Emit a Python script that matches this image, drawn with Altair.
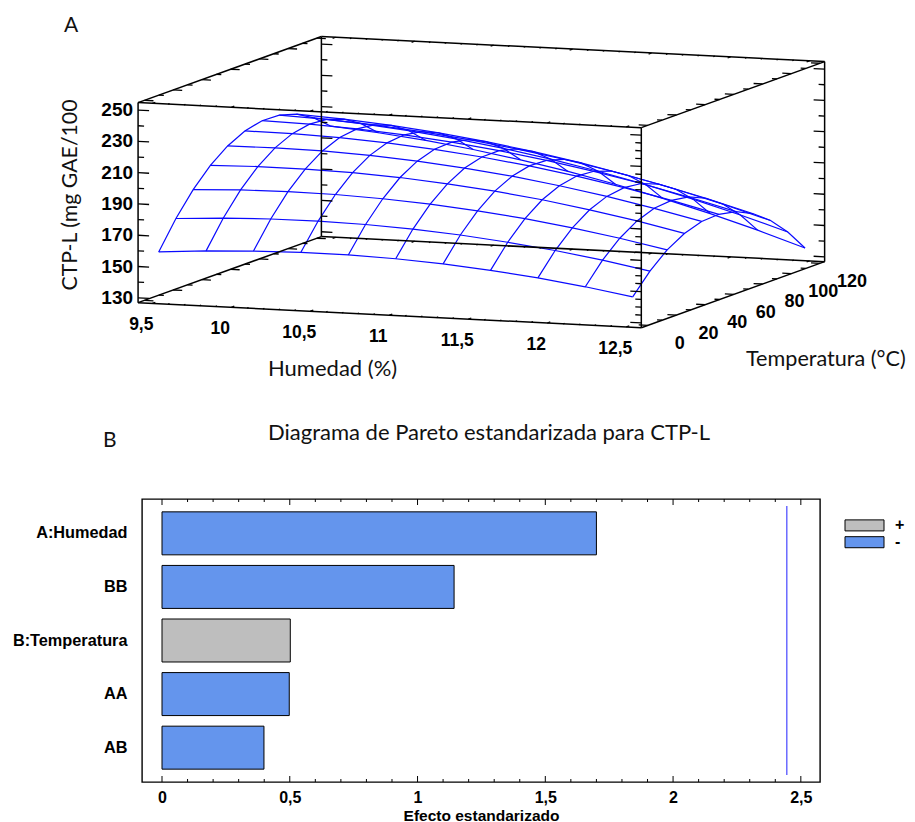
import altair as alt
import pandas as pd

# ---------- 3D surface data ----------
hum_grid = [9.5, 9.8, 10.1, 10.4, 10.7, 11.0, 11.3, 11.6, 11.9, 12.2, 12.5]
temp_grid = [0, 12, 24, 36, 48, 60, 72, 84, 96, 108, 120]
# CTP-L: one row per humidity, one column per temperature
ctp = [
    [158.3, 175.7, 190.2, 201.7, 210.2, 215.8, 218.4, 218.0, 214.7, 208.3, 199.0],
    [160.5, 177.5, 191.5, 202.5, 210.5, 215.6, 217.7, 216.8, 213.0, 206.1, 196.3],
    [161.9, 178.4, 191.9, 202.4, 210.0, 214.6, 216.2, 214.8, 210.5, 203.2, 192.9],
    [162.6, 178.6, 191.6, 201.6, 208.7, 212.7, 213.9, 212.0, 207.2, 199.4, 188.6],
    [162.4, 177.9, 190.4, 200.0, 206.5, 210.1, 210.7, 208.4, 203.1, 194.8, 183.5],
    [161.5, 176.5, 188.5, 197.5, 203.6, 206.7, 206.8, 204.0, 198.2, 189.4, 177.6],
    [159.7, 174.2, 185.7, 194.3, 199.9, 202.5, 202.1, 198.8, 192.5, 183.2, 170.9],
    [157.1, 171.1, 182.2, 190.3, 195.3, 197.5, 196.6, 192.8, 186.0, 176.2, 163.4],
    [153.8, 167.3, 177.8, 185.4, 190.0, 191.6, 190.3, 186.0, 178.7, 168.4, 155.2],
    [149.6, 162.7, 172.7, 179.8, 183.9, 185.0, 183.2, 178.4, 170.6, 159.8, 146.1],
    [144.7, 157.2, 166.8, 173.3, 177.0, 177.6, 175.3, 170.0, 161.7, 150.4, 136.2],
]
hum_ticks = [9.5, 10, 10.5, 11, 11.5, 12, 12.5]
hum_labels = ["9,5", "10", "10,5", "11", "11,5", "12", "12,5"]
temp_ticks = [0, 20, 40, 60, 80, 100, 120]
ctp_ticks = [130, 150, 170, 190, 210, 230, 250]

# ---------- Pareto data ----------
effects = ["A:Humedad", "BB", "B:Temperatura", "AA", "AB"]
effect_values = [1.70, 1.143, 0.502, 0.498, 0.399]
effect_signs = ["-", "-", "+", "-", "-"]
critical_value = [2.445]
pareto_ticks = [0, 0.5, 1, 1.5, 2, 2.5]

H0, H1, T0, T1, Z0, Z1 = 9.41, 12.595, -4.46, 123.2, 126.9, 254.8


def project(h, t, z):
    sx = 158.7 + 158.0 * (h - 9.5) + 1.436 * t
    sy = 300.5 + 7.867 * (h - 9.5) - 0.5175 * t - 1.564 * (z - 127.25)
    return sx, sy


def segment(a, b):
    p, q = project(*a), project(*b)
    return {"x1": p[0], "y1": p[1], "x2": q[0], "y2": q[1]}


wire = []
for i, h in enumerate(hum_grid):
    for j, t in enumerate(temp_grid):
        sx, sy = project(h, t, ctp[i][j])
        wire.append({"sx": sx, "sy": sy, "line": f"h{i}", "k": j})
        wire.append({"sx": sx, "sy": sy, "line": f"t{j}", "k": i})
wire = pd.DataFrame(wire)

corners = [
    ((H0, T0, Z0), (H1, T0, Z0)), ((H0, T0, Z1), (H1, T0, Z1)),
    ((H0, T1, Z0), (H1, T1, Z0)), ((H0, T1, Z1), (H1, T1, Z1)),
    ((H0, T0, Z0), (H0, T1, Z0)), ((H0, T0, Z1), (H0, T1, Z1)),
    ((H1, T0, Z0), (H1, T1, Z0)), ((H1, T0, Z1), (H1, T1, Z1)),
    ((H0, T0, Z0), (H0, T0, Z1)), ((H0, T1, Z0), (H0, T1, Z1)),
    ((H1, T0, Z0), (H1, T0, Z1)), ((H1, T1, Z0), (H1, T1, Z1)),
]
box = pd.DataFrame([segment(a, b) for a, b in corners])

ticks = []
PX_H = 1 / 158.0
PX_T = 1 / 1.436
for corner_h, corner_t, sign, step in [(H0, T0, 1, 10), (H0, T1, 1, 10), (H1, T0, -1, 5), (H1, T1, -1, 10)]:
    for z in range(130, 251, step):
        length = 11 if z % 20 == 10 else 6
        ticks.append(segment((corner_h, corner_t, z), (corner_h + sign * length * PX_H, corner_t, z)))
for corner_h, corner_z, sign in [(H0, Z0, 1), (H0, Z1, 1), (H1, Z0, -1), (H1, Z1, -1)]:
    for t in range(0, 121, 10):
        length = 9 if t % 20 == 0 else 5
        ticks.append(segment((corner_h, t, corner_z), (corner_h + sign * length * PX_H, t, corner_z)))
for corner_t, corner_z, sign in [(T0, Z0, 1), (T0, Z1, 1), (T1, Z0, -1), (T1, Z1, -1)]:
    for n in range(95, 126):
        h = n / 10
        length = 3 if n % 5 == 0 else 1.5
        ticks.append(segment((h, corner_t, corner_z), (h, corner_t + sign * length * PX_T, corner_z)))
ticks = pd.DataFrame(ticks)


def points(rows):
    out = []
    for text, pos in rows:
        sx, sy = project(*pos)
        out.append({"sx": sx, "sy": sy, "text": text})
    return pd.DataFrame(out)


z_lab = points([(str(z), (H0, T0, z)) for z in ctp_ticks])
h_lab = points([(s, (h, T0, Z0)) for s, h in zip(hum_labels, hum_ticks)])
t_lab = points([(str(t), (H1, t, Z0)) for t in temp_ticks])

notes = pd.DataFrame([
    {"sx": 64, "sy": 26, "text": "A"},
    {"sx": 103, "sy": 441, "text": "B"},
    {"sx": 268, "sy": 433, "text": "Diagrama de Pareto estandarizada para CTP-L"},
    {"sx": 268, "sy": 369, "text": "Humedad (%)"},
    {"sx": 746, "sy": 360, "text": "Temperatura (°C)"},
])
ylab = pd.DataFrame([{"sx": 71, "sy": 195, "text": "CTP-L (mg GAE/100"}])

PANEL_W = 678
FRAME_L, FRAME_R = 142, 820
X = alt.X("sx:Q", axis=None, scale=alt.Scale(domain=[FRAME_L, FRAME_R], zero=False, nice=False))
Y = alt.Y("sy:Q", axis=None, scale=alt.Scale(domain=[450, 8], zero=False, nice=False))
X1 = alt.X("x1:Q", axis=None, scale=alt.Scale(domain=[FRAME_L, FRAME_R], zero=False, nice=False))
Y1 = alt.Y("y1:Q", axis=None, scale=alt.Scale(domain=[450, 8], zero=False, nice=False))

wire_l = alt.Chart(wire).mark_line(color="#0a0aff", strokeWidth=1.2, clip=False).encode(
    x=X, y=Y, detail="line:N", order="k:Q")
box_l = alt.Chart(box).mark_rule(color="black", strokeWidth=1.5).encode(x=X1, y=Y1, x2="x2:Q", y2="y2:Q")
tick_l = alt.Chart(ticks).mark_rule(color="black", strokeWidth=1.3).encode(x=X1, y=Y1, x2="x2:Q", y2="y2:Q")

BOLD = dict(font="Liberation Sans", fontWeight="bold", color="black", baseline="middle")
z_t = alt.Chart(z_lab).mark_text(align="right", dx=-5, fontSize=19, **BOLD).encode(x=X, y=Y, text="text:N")
h_t = alt.Chart(h_lab).mark_text(align="center", dx=-11, dy=22, fontSize=17.5, **BOLD).encode(x=X, y=Y, text="text:N")
t_t = alt.Chart(t_lab).mark_text(align="center", dx=32, dy=18.5, fontSize=18, **BOLD).encode(x=X, y=Y, text="text:N")

CAL = dict(font="Lato", color="#111111", baseline="middle")
note_a = alt.Chart(notes[notes.text.isin(["A", "B"])]).mark_text(align="left", fontSize=21, **CAL).encode(x=X, y=Y, text="text:N")
note_c = alt.Chart(notes[notes.text.str.startswith(("Diagrama", "Humedad"))]).mark_text(align="left", fontSize=22, **CAL).encode(x=X, y=Y, text="text:N")
note_t = alt.Chart(notes[notes.text.str.startswith("Temp")]).mark_text(align="left", fontSize=21.6, **CAL).encode(x=X, y=Y, text="text:N")
y_t = alt.Chart(ylab).mark_text(align="center", angle=270, fontSize=21.3, font="Lato", color="#111111", baseline="middle").encode(x=X, y=Y, text="text:N")

top = alt.layer(wire_l, box_l, tick_l, z_t, h_t, t_t, note_a, note_c, note_t, y_t).properties(width=PANEL_W, height=442)

# ---------- Pareto ----------
bars = pd.DataFrame({"effect": effects, "value": effect_values, "sign": effect_signs})
XB = alt.Scale(domain=[-0.0783, 2.575], zero=False, nice=False)
x_axis = alt.Axis(values=pareto_ticks, labelExpr="replace(format(datum.value,'.1~f'),'.',',')",
                  ticks=False, domain=False, grid=False, labelPadding=7, labelFontSize=16,
                  labelFont="Liberation Sans", labelFontWeight="bold", labelColor="black",
                  titleFont="Liberation Sans", titleFontWeight="bold", titleFontSize=15.5,
                  titleColor="black", titlePadding=3)
bar_l = alt.Chart(bars).mark_bar(stroke="black", strokeWidth=1).encode(
    x=alt.X("value:Q", scale=XB, title="Efecto estandarizado", axis=x_axis),
    y=alt.Y("effect:N", sort=effects, title=None,
            scale=alt.Scale(paddingInner=0.198, paddingOuter=0.24),
            axis=alt.Axis(ticks=False, domain=False, grid=False, labelPadding=15, labelFontSize=16.3,
                          labelFont="Liberation Sans", labelFontWeight="bold", labelColor="black")),
    color=alt.Color("sign:N", scale=alt.Scale(domain=["+", "-"], range=["#BEBEBE", "#6495ED"]),
                    legend=alt.Legend(orient="none", legendX=714.5, legendY=509.4, title=None,
                                      symbolType="M-3.25,-0.92H3.25V0.92H-3.25Z", symbolSize=144,
                                      symbolStrokeColor="black", symbolStrokeWidth=1, symbolOpacity=1,
                                      rowPadding=0.8, labelFont="Liberation Sans", labelFontWeight="bold",
                                      labelFontSize=16, labelColor="black", labelOffset=22.5)),
)
major = pd.DataFrame({"v": pareto_ticks})
minor = pd.DataFrame({"v": [n / 10 for n in range(0, 26) if n % 5]})
rule_x = alt.X("v:Q", scale=XB, title="Efecto estandarizado", axis=x_axis)
tm = [
    alt.Chart(major).mark_rule(color="black", strokeWidth=1).encode(x=rule_x, y=alt.value(283), y2=alt.value(277)),
    alt.Chart(major).mark_rule(color="black", strokeWidth=1).encode(x=rule_x, y=alt.value(0), y2=alt.value(6)),
    alt.Chart(minor).mark_rule(color="black", strokeWidth=1).encode(x=rule_x, y=alt.value(283), y2=alt.value(280)),
    alt.Chart(minor).mark_rule(color="black", strokeWidth=1).encode(x=rule_x, y=alt.value(0), y2=alt.value(3)),
]
crit = alt.Chart(pd.DataFrame({"v": critical_value})).mark_rule(color="#6a6aff", strokeWidth=1.5).encode(
    x=rule_x, y=alt.value(7), y2=alt.value(276))

bottom = alt.layer(bar_l, crit, *tm).properties(
    width=PANEL_W, height=283, view=alt.ViewConfig(stroke="black", strokeWidth=1.4))

chart = alt.vconcat(top, bottom, spacing=49, bounds="flush").properties(
    padding={"left": 3, "top": 0, "right": 0, "bottom": 0}
).configure_view(stroke=None)

chart.save("out.html", embed_options={"renderer": "svg", "actions": False})
